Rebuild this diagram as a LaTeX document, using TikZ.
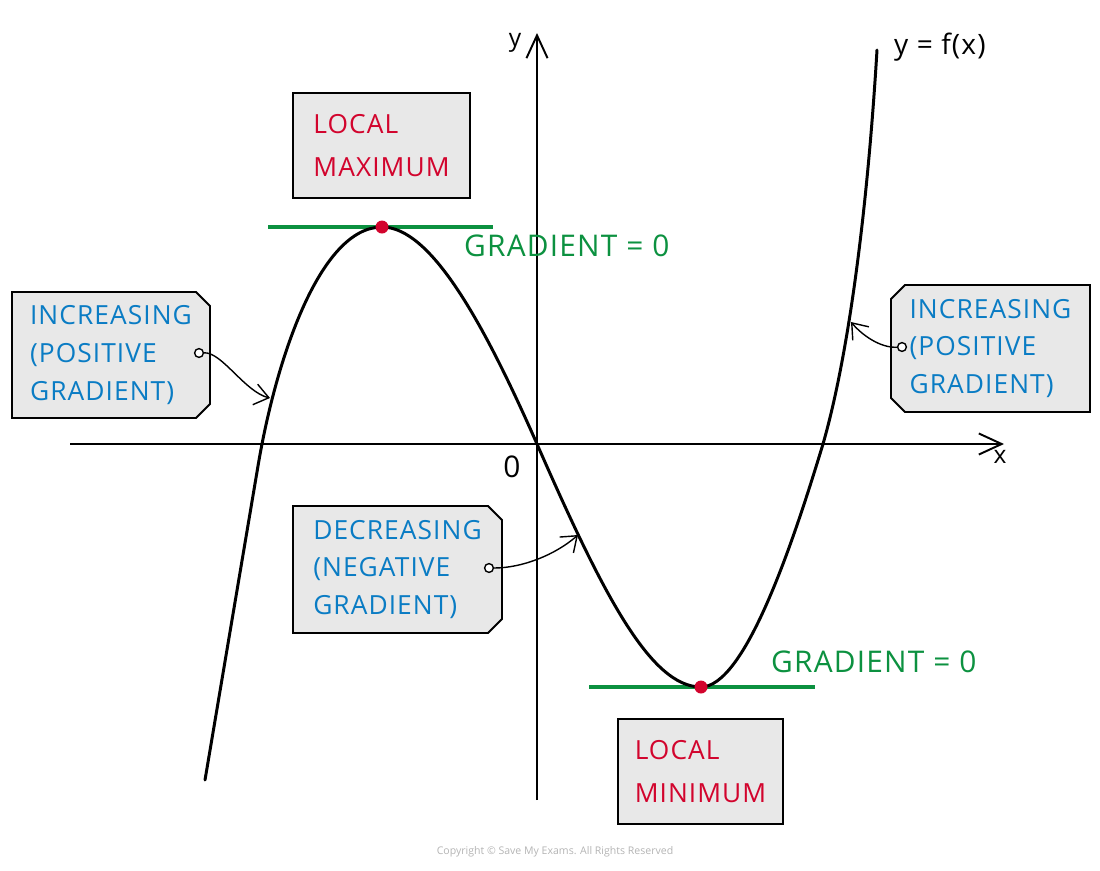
\documentclass[tikz,border=0pt]{standalone}
\usepackage{fontspec}
\setmainfont{Open Sans}
\usetikzlibrary{arrows.meta, shapes.misc, positioning}
\definecolor{LabelBlue}{HTML}{0A7CC4}
\definecolor{PointRed}{HTML}{D2042D}
\definecolor{TangentGreen}{HTML}{0C9140}
\definecolor{BoxGray}{HTML}{E8E8E8}
\definecolor{NoteGray}{HTML}{B4B4B4}
\newfontfamily\HandFont[LetterSpace=4]{Open Sans}
\newcommand{\BoxFont}{\HandFont\fontsize{15}{21.5}\selectfont}
\newcommand{\PointFont}{\HandFont\fontsize{15}{24.4}\selectfont}

\tikzset{
  notebox/.style={draw=black, line width=1.1pt, fill=BoxGray, align=left, inner sep=0pt},
  gradbox/.style={notebox, chamfered rectangle, chamfered rectangle xsep=4pt,
    chamfered rectangle ysep=4pt, text=LabelBlue, font=\BoxFont},
  pointbox/.style={notebox, rectangle, text=PointRed, font=\PointFont},
  pinhole/.style={circle, draw=black, fill=white, line width=0.8pt, inner sep=0pt, minimum size=5pt},
  pointer/.style={-{Straight Barb[length=8pt,width=12pt]}, line width=0.8pt},
  axisline/.style={line width=1.1pt, -{Straight Barb[length=13pt,width=12pt]}},
  tangent/.style={TangentGreen, line width=2.2pt},
  turnpt/.style={circle, fill=PointRed, inner sep=0pt, minimum size=0.26cm},
  curve/.style={line width=1.7pt, line cap=round, line join=round}
}

\begin{document}
\begin{tikzpicture}[x=0.02cm, y=-0.02cm]
  \useasboundingbox (0,0) rectangle (1100,870);

  % axes
  \coordinate (O) at (537,444);
  \coordinate (xstart) at (70,444);
  \coordinate (xend) at (1004,444);
  \coordinate (ystart) at (537,800);
  \coordinate (yend) at (537,33);
  \draw[axisline] (xstart) -- (xend);
  \draw[axisline] (ystart) -- (yend);
  \node[font=\fontsize{14}{14}\selectfont] (ylabel) at (515,43) {y};
  \node[font=\fontsize{14}{14}\selectfont] (xlabel) at (1000,457) {x};
  \node[font=\HandFont\fontsize{17}{17}\selectfont] (olabel) at (512,467) {0};

  % turning points and tangents
  \coordinate (lmax) at (382,227);
  \coordinate (lmin) at (701,687);
  \coordinate (tmaxa) at (268,227);
  \coordinate (tmaxb) at (493,227);
  \coordinate (tmina) at (589,687);
  \coordinate (tminb) at (815,687);
  \draw[tangent] (tmaxa) -- (tmaxb);
  \draw[tangent] (tmina) -- (tminb);
  \node[anchor=west, text=TangentGreen, font=\HandFont\fontsize{17}{17}\selectfont] (gradtop) at (458,246) {GRADIENT = 0};
  \node[anchor=west, text=TangentGreen, font=\HandFont\fontsize{17}{17}\selectfont] (gradbot) at (765,662) {GRADIENT = 0};

  % the cubic
  \draw[curve] (205,780) -- (258,466)
    .. controls (276,359) and (320,227) .. (lmax)
    .. controls (430,227) and (482,319) .. (O)
    .. controls (602,592) and (650,687) .. (lmin)
    .. controls (745,687) and (793,543) .. (823,444)
    .. controls (850,350) and (868,200) .. (877,50);
  \node[turnpt] (maxdot) at (lmax) {};
  \node[turnpt] (mindot) at (lmin) {};
  \node[anchor=west, font=\HandFont\fontsize{16}{16}\selectfont] (fname) at (888,47) {y = f(x)};

  % labels
  \node[pointbox, minimum width=3.54cm, minimum height=2.1cm] (maxbox) at (381.5,145.5) {LOCAL\\MAXIMUM};
  \node[pointbox, minimum width=3.3cm, minimum height=2.1cm] (minbox) at (700.5,771.5) {LOCAL\\MINIMUM};
  \node[gradbox, chamfered rectangle corners={north east,south east},
    minimum width=3.96cm, minimum height=2.52cm] (incleft) at (111,355) {INCREASING\\(POSITIVE\\GRADIENT)};
  \node[gradbox, chamfered rectangle corners={north east,south east},
    minimum width=4.18cm, minimum height=2.54cm] (decbox) at (397.5,569.5) {DECREASING\\(NEGATIVE\\GRADIENT)};
  \node[gradbox, chamfered rectangle corners={north west,south west},
    minimum width=3.98cm, minimum height=2.54cm] (incright) at (990.5,348.5) {INCREASING\\(POSITIVE\\GRADIENT)};

  % pointers
  \node[pinhole] (incleftpin) at (199,353) {};
  \node[pinhole] (decpin) at (489,568) {};
  \node[pinhole] (incrightpin) at (902,347) {};
  \coordinate (inclefttip) at (270,398);
  \coordinate (dectip) at (578,535);
  \coordinate (incrighttip) at (851,322);
  \draw[pointer] (incleftpin) .. controls (222,352) and (245,392) .. (inclefttip);
  \draw[pointer] (decpin) .. controls (522,568) and (555,555) .. (dectip);
  \draw[pointer] (incrightpin) .. controls (880,348) and (862,335) .. (incrighttip);

  \node[text=NoteGray, font=\fontsize{6}{6}\selectfont] (copy) at (555,852) {Copyright © Save My Exams. All Rights Reserved};
\end{tikzpicture}
\end{document}
